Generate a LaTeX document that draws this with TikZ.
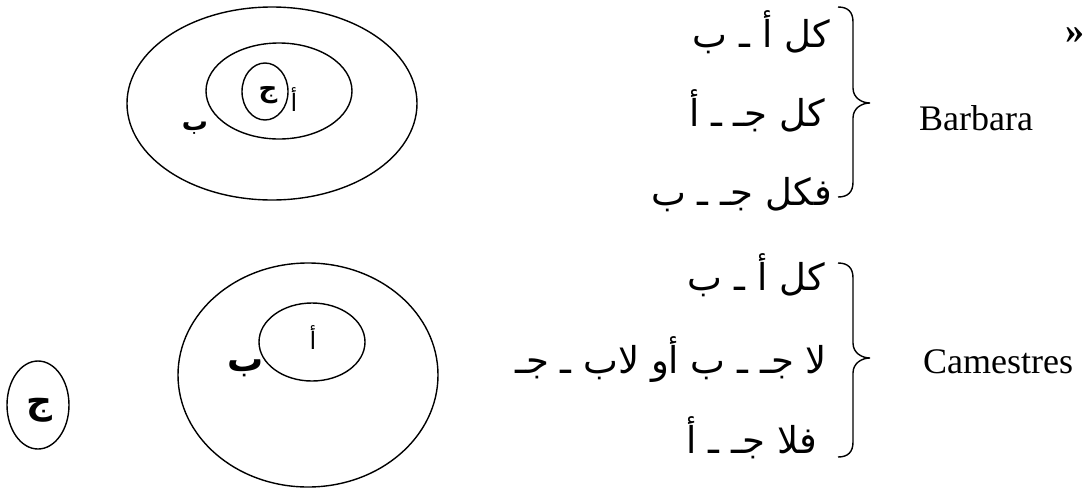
\documentclass[tikz,border=0pt]{standalone}
\usepackage{fontspec}
\setmainfont{Liberation Serif}
\newfontfamily\arabicfont[Script=Arabic]{DejaVu Sans}
\TeXXeTstate=1
\usetikzlibrary{shapes.geometric}
\tikzset{
  ell/.style={draw, ellipse, line width=1.4pt, inner sep=0pt},
  arline/.style={anchor=base east, inner sep=0pt, font=\arabicfont\fontsize{37}{44}\selectfont},
  lab/.style={inner sep=0pt, font=\arabicfont\fontsize{24}{28}\selectfont},
  tblab/.style={inner sep=0pt, font=\arabicfont\bfseries\fontsize{26}{30}\selectfont},
  blab/.style={inner sep=0pt, font=\arabicfont\bfseries\fontsize{36}{40}\selectfont},
  latin/.style={anchor=base west, inner sep=0pt, font=\fontsize{36}{42}\selectfont},
  bracel/.style={line width=1.4pt}
}
\begin{document}
\begin{tikzpicture}[x=1pt,y=-1pt]
\useasboundingbox (0,0) rectangle (1092,488);
% top group ellipses
\node[ell, minimum width=290, minimum height=193] (o1) at (272,103.5) {};
\node[ell, minimum width=146, minimum height=96] (m1) at (279,91) {};
\node[ell, minimum width=46, minimum height=57] (i1) at (265,91.5) {};
\node[tblab] (j1) at (268,95) {\beginR ج\endR};
\node[lab] (a1) at (294,100) {\beginR أ\endR};
\node[tblab] (b1) at (195,128) {\beginR ب\endR};
% top text
\node[arline] (t1) at (830,47) {\beginR كل أ ـ ب\endR};
\node[arline] (t2) at (825,126) {\beginR كل جـ ـ أ\endR};
\node[arline] (t3) at (832,205) {\beginR فكل جـ ـ ب\endR};
\coordinate (bt1) at (838,7);
\coordinate (bt2) at (870,103);
\coordinate (bt3) at (838,197);
\draw[bracel] (bt1) .. controls (848,7) and (853,12) .. (853,22) -- (853,88)
  .. controls (853,98) and (862,103) .. (bt2)
  .. controls (862,103) and (853,108) .. (853,118) -- (853,182)
  .. controls (853,192) and (848,197) .. (bt3);
\node[latin] (barbara) at (919,130) {Barbara};
\node[inner sep=0pt, font=\bfseries\fontsize{38}{40}\selectfont] (guil) at (1075,36) {»};
% bottom group
\node[ell, minimum width=62, minimum height=88] (o2) at (38,405) {};
\node[blab] (j2) at (39,410) {\beginR ج\endR};
\node[ell, minimum width=260, minimum height=224] (bg) at (308,375) {};
\node[ell, minimum width=106, minimum height=78] (sm) at (312,342) {};
\node[lab] (a2) at (313,338) {\beginR أ\endR};
\node[blab] (b2) at (246,368) {\beginR ب\endR};
\node[arline] (u1) at (825,290) {\beginR كل أ ـ ب\endR};
\node[arline] (u2) at (827,373) {\beginR لا جـ ـ ب أو لاب ـ جـ\endR};
\node[arline] (u3) at (817,453) {\beginR فلا جـ ـ أ\endR};
\coordinate (bb1) at (838,263);
\coordinate (bb2) at (870,358);
\coordinate (bb3) at (838,457);
\draw[bracel] (bb1) .. controls (848,263) and (853,268) .. (853,278) -- (853,343)
  .. controls (853,353) and (862,358) .. (bb2)
  .. controls (862,358) and (853,363) .. (853,373) -- (853,442)
  .. controls (853,452) and (848,457) .. (bb3);
\node[latin] (camestres) at (923,373) {Camestres};
\end{tikzpicture}
\end{document}
